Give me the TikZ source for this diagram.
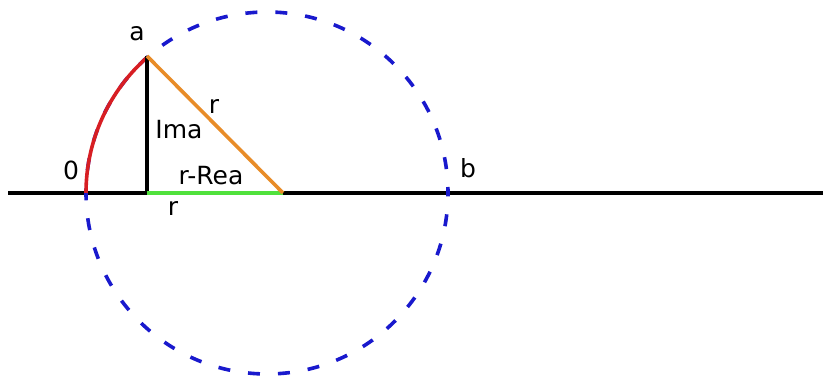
\documentclass[tikz,border=0pt]{standalone}
\usepackage{fontspec}
\setmainfont{DejaVu Sans}
\definecolor{cblue}{RGB}{25,25,205}
\definecolor{cred}{RGB}{215,30,35}
\definecolor{corange}{RGB}{232,140,40}
\definecolor{cgreen}{RGB}{80,225,60}
\begin{document}
\begin{tikzpicture}[x=1pt,y=1pt,
  thick3/.style={line width=3.6pt},
  lbl/.style={inner sep=0pt,font=\fontsize{25}{27}\selectfont}]
\useasboundingbox (0,0) rectangle (823,379);
\coordinate (L1) at (8,186);
\coordinate (L2) at (823,186);
\coordinate (C) at (267,186);
\coordinate (O) at (86,186);
\coordinate (A) at (147,323);
\coordinate (F) at (147,186);
\coordinate (E) at (283,186);
\coordinate (B) at (448,186);
% axis
\draw[thick3,black] (L1) -- (L2);
% circle
\draw[thick3,cblue,dash pattern=on 12pt off 18pt,dash phase=6pt] (C) circle (181);
% red arc
\draw[thick3,cred] (O) arc[start angle=180,end angle=131.3,radius=181];
% triangle
\draw[thick3,black] (A) -- (F);
\draw[thick3,cgreen] (F) -- (E);
\draw[thick3,corange] (A) -- (E);
% labels
\node[lbl] (la) at (137,345) {a};
\node[lbl] (l0) at (71,209) {0};
\node[lbl] (lb) at (468,211) {b};
\node[lbl] (lr1) at (214,272) {r};
\node[lbl] (lima) at (179,249) {Ima};
\node[lbl] (lrrea) at (211,203) {r-Rea};
\node[lbl] (lr2) at (173,170) {r};
\end{tikzpicture}
\end{document}
